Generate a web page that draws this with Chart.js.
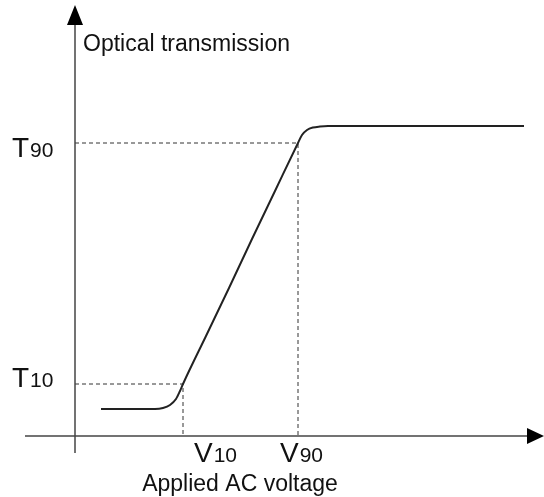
<!DOCTYPE html>
<html>
<head>
<meta charset="utf-8">
<script src="https://cdn.jsdelivr.net/npm/chart.js@4/dist/chart.umd.min.js"></script>
<style>
  body { margin: 0; background: #fff; }
  canvas { display: block; }
</style>
</head>
<body>
<canvas id="myChart" width="544" height="497"></canvas>
<script>
  // transmission curve (arbitrary units)
  const voltage = [26, 80, 88, 95, 101, 105, 108, 131, 154, 177, 200, 223, 227, 232, 238, 245, 253, 449];
  const transmission = [27, 27, 28, 31, 37, 45, 52, 100, 148, 197, 245, 293, 301, 306, 308.5, 309.5, 310, 310];

  // threshold markers
  const V10 = 108, V90 = 223;
  const T10 = 52, T90 = 293;

  const xLabel = 'Applied AC voltage';
  const yLabel = 'Optical transmission';

  const curve = voltage.map((v, i) => ({ x: v, y: transmission[i] }));

  const guide = (v, t) => [{ x: 0, y: t }, { x: v, y: t }, { x: v, y: 0 }];

  const FONT = '"Liberation Sans", Arial, sans-serif';

  const axesPlugin = {
    id: 'axes',
    afterDatasetsDraw(chart) {
      const c = chart.ctx;
      const xs = chart.scales.x, ys = chart.scales.y;
      const px = v => xs.getPixelForValue(v);
      const py = t => ys.getPixelForValue(t);
      c.save();
      c.strokeStyle = '#444';
      c.fillStyle = '#000';
      c.lineWidth = 1.5;
      // x axis
      c.beginPath();
      c.moveTo(px(-50), py(0));
      c.lineTo(px(455), py(0));
      c.stroke();
      c.beginPath();
      c.moveTo(px(469), py(0));
      c.lineTo(px(452), py(0) - 8);
      c.lineTo(px(452), py(0) + 8);
      c.closePath();
      c.fill();
      // y axis
      c.beginPath();
      c.moveTo(px(0), py(-17));
      c.lineTo(px(0), py(415));
      c.stroke();
      c.beginPath();
      c.moveTo(px(0), py(431));
      c.lineTo(px(0) - 8, py(411));
      c.lineTo(px(0) + 8, py(411));
      c.closePath();
      c.fill();

      // labels
      c.fillStyle = '#111';
      c.textBaseline = 'alphabetic';
      c.textAlign = 'left';
      const sub = (main, s, x, y) => {
        c.font = '28px ' + FONT;
        c.fillText(main, x, y);
        const w = c.measureText(main).width;
        c.font = '21px ' + FONT;
        c.fillText(s, x + w + 1, y);
      };
      sub('T', '90', 12, py(T90) + 14);
      sub('T', '10', 12, py(T10) + 3);
      sub('V', '10', px(V10) + 11, py(0) + 26);
      sub('V', '90', px(V90) - 18, py(0) + 26);

      c.font = '23px ' + FONT;
      c.fillText(yLabel, px(0) + 8, 51);
      c.textAlign = 'center';
      c.fillText(xLabel, 240, 491);
      c.restore();
    }
  };

  new Chart(document.getElementById('myChart'), {
    type: 'line',
    data: {
      datasets: [
        {
          data: curve,
          borderColor: '#222',
          borderWidth: 2,
          pointRadius: 0,
          cubicInterpolationMode: 'monotone'
        },
        {
          data: guide(V10, T10),
          borderColor: '#333',
          borderWidth: 1,
          borderDash: [4, 3],
          pointRadius: 0
        },
        {
          data: guide(V90, T90),
          borderColor: '#333',
          borderWidth: 1,
          borderDash: [4, 3],
          pointRadius: 0
        }
      ]
    },
    options: {
      responsive: false,
      animation: false,
      layout: { padding: 0 },
      plugins: { legend: { display: false }, tooltip: { enabled: false } },
      scales: {
        x: { type: 'linear', min: -75, max: 469, display: false },
        y: { type: 'linear', min: -61, max: 436, display: false }
      }
    },
    plugins: [axesPlugin]
  });
</script>
</body>
</html>
